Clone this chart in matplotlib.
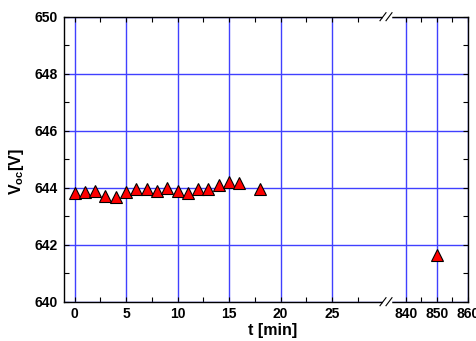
import matplotlib
matplotlib.use('Agg')
import matplotlib.pyplot as plt
from matplotlib.ticker import MultipleLocator, FixedLocator

plt.rcParams['font.family'] = ['Liberation Sans', 'DejaVu Sans']
plt.rcParams['font.weight'] = 'bold'
plt.rcParams['mathtext.fontset'] = 'custom'
plt.rcParams['mathtext.rm'] = 'Liberation Sans:bold'

# data
t_short = [0, 1, 2, 3, 4, 5, 6, 7, 8, 9, 10, 11, 12, 13, 14, 15, 16, 18]
voc_short = [643.80, 643.84, 643.87, 643.72, 643.66, 643.85, 643.97, 643.97, 643.90,
             643.99, 643.90, 643.80, 643.97, 643.97, 644.08, 644.20, 644.15, 643.94]
t_long = [850]
voc_long = [641.65]

xticks_left = [0, 5, 10, 15, 20, 25]
xticks_right = [840, 850, 860]
yticks = [640, 642, 644, 646, 648, 650]

W, H = 477, 341
fig = plt.figure(figsize=(W / 100, H / 100), dpi=100)

# axes extents in pixels
x0, xb, x1 = 64.3, 386.7, 467.7
y_top, y_bot = 16.7, 301.7


def fx(px):
    return px / W


def fy(py):
    return 1 - py / H


ax1 = fig.add_axes([fx(x0), fy(y_bot), fx(xb - x0), fy(y_top) - fy(y_bot)])
ax2 = fig.add_axes([fx(xb), fy(y_bot), fx(x1 - xb), fy(y_top) - fy(y_bot)], sharey=ax1)

grid_col = (0.25, 0.25, 1.0)
mk = dict(marker='^', linestyle='none', markersize=9, markerfacecolor='#ff0000',
          markeredgecolor='black', markeredgewidth=0.8, zorder=5, clip_on=False)

ax1.plot(t_short, voc_short, **mk)
ax2.plot(t_long, voc_long, **mk)

ax1.set_xlim(-1.0, 30.31)
ax2.set_xlim(833.74, 860)
ax1.set_ylim(640, 650)

ax1.set_xticks(xticks_left)
ax1.xaxis.set_minor_locator(FixedLocator([2.5, 7.5, 12.5, 17.5, 22.5, 27.5]))
ax2.set_xticks(xticks_right)
ax2.xaxis.set_minor_locator(FixedLocator([845, 855]))
ax1.set_yticks(yticks)
ax1.yaxis.set_minor_locator(MultipleLocator(1))

for ax in (ax1, ax2):
    ax.grid(True, which='major', color=grid_col, linewidth=1.0)
    ax.set_axisbelow(True)
    ax.tick_params(which='both', direction='in', top=True, right=True, length=3.5,
                   width=0.8, labelsize=10, pad=4)
    for s in ax.spines.values():
        s.set_linewidth(1.0)

ax1.spines['right'].set_visible(False)
ax1.tick_params(which='both', right=False)
ax2.spines['left'].set_visible(False)
ax2.tick_params(which='both', left=False, labelleft=False)
ax1.tick_params(axis='y', pad=5)

# axis labels
fig.text(fx(273), fy(331), 't [min]', ha='center', va='center', fontsize=11.5, fontweight='bold')
fig.text(fx(17), fy(172), r'V$_{\mathrm{oc}}$[V]', ha='center', va='center', rotation=90,
         fontsize=11.5, fontweight='bold')

# axis break marks
for yb in (y_top, y_bot):
    fig.add_artist(plt.Line2D([fx(384), fx(390)], [fy(yb), fy(yb)], transform=fig.transFigure,
                              color='white', linewidth=2.5, zorder=10))
    for dx in (0, 6):
        fig.add_artist(plt.Line2D([fx(380 + dx), fx(386 + dx)], [fy(yb + 4), fy(yb - 4)],
                                  transform=fig.transFigure, color='black', linewidth=0.8,
                                  zorder=11))

fig.savefig('out.png', dpi=100)
